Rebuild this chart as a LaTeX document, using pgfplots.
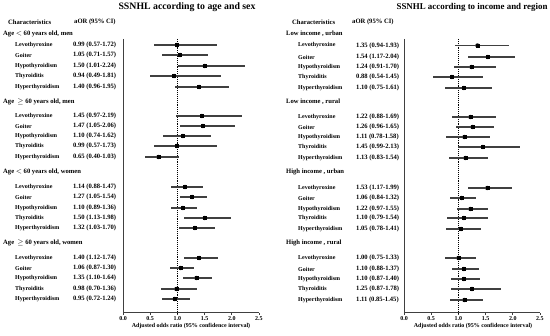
\documentclass[border=0pt]{standalone}
\usepackage{fontspec}
\setmainfont{Liberation Serif}
\usepackage{pgfplots}
\usepackage{pgfplotstable}
\pgfplotsset{compat=1.18}

\pgfplotstableread{
y or lo hi
45 0.99 0.57 1.72
55 1.05 0.71 1.57
66 1.50 1.01 2.24
76 0.94 0.49 1.81
87 1.40 0.96 1.95
116 1.45 0.97 2.19
126 1.47 1.05 2.06
136 1.10 0.74 1.62
146 0.99 0.57 1.73
157 0.65 0.40 1.03
187 1.14 0.88 1.47
197 1.27 1.05 1.54
208 1.10 0.89 1.36
218 1.50 1.13 1.98
228 1.32 1.03 1.70
258 1.40 1.12 1.74
268 1.06 0.87 1.30
278 1.35 1.10 1.64
289 0.98 0.70 1.36
299 0.95 0.72 1.24
}\lefttab

\pgfplotstableread{
y or lo hi
45.5 1.35 0.94 1.93
57 1.54 1.17 2.04
67 1.24 0.91 1.70
77 0.88 0.54 1.45
88 1.10 0.75 1.61
117 1.22 0.88 1.69
127 1.26 0.96 1.65
137 1.11 0.78 1.58
147 1.45 0.99 2.13
158 1.13 0.83 1.54
188 1.53 1.17 1.99
198 1.06 0.84 1.32
209 1.22 0.97 1.55
218 1.10 0.79 1.54
229 1.05 0.78 1.41
258 1.00 0.75 1.33
269 1.10 0.88 1.37
279 1.10 0.87 1.40
289 1.25 0.87 1.78
300 1.11 0.85 1.45
}\righttab

\newcommand{\fsm}{\bfseries\fontsize{6}{7}\selectfont}
\newcommand{\fmd}{\bfseries\fontsize{6.6}{8}\selectfont}
\newcommand{\fttl}{\bfseries\fontsize{9.8}{11}\selectfont}
\newcommand{\fttr}{\bfseries\fontsize{8.9}{10}\selectfont}

\pgfplotsset{
  forest/.style={
    scale only axis, width=136pt, height=274pt, anchor=north west,
    xmin=0, xmax=2.5, ymin=39, ymax=313, y dir=reverse,
    axis x line*=bottom, axis y line*=left,
    axis line style={-, line width=1pt, black!75},
    ytick=\empty,
    xtick={0,0.5,1,1.5,2,2.5},
    xticklabel style={font=\fsm, /pgf/number format/fixed, /pgf/number format/fixed zerofill, /pgf/number format/precision=1, /pgf/number format/assume math mode=true, inner sep=1pt},
    tick align=outside, major tick length=2pt, tick style={black!75, line width=0.8pt},
    clip=false,
  },
  ebar/.style={only marks, mark=none, black!75,
    error bars/.cd, x dir=both, x explicit, error mark=none,
    error bar style={line width=1.1pt, black!75}},
  dot/.style={only marks, mark=square*, mark size=1.5pt, black},
}

\begin{document}
\begin{tikzpicture}
\path[use as bounding box] (0,0) rectangle (550pt,-336pt);

% ---------------- left panel ----------------
\begin{axis}[forest, at={(123pt,-39pt)}]
\draw[densely dotted, line width=0.9pt] (axis cs:1,39) -- (axis cs:1,313);
\addplot[ebar] table[x=or, y=y, x error plus expr=\thisrow{hi}-\thisrow{or}, x error minus expr=\thisrow{or}-\thisrow{lo}] {\lefttab};
\addplot[dot] table[x=or, y=y] {\lefttab};
\end{axis}

\node[font=\fttl] at (187pt,-7pt) {SSNHL according to age and sex};
\node[font=\fmd, anchor=west, inner sep=0] at (8pt,-22pt) {Characteristics};
\node[font=\fmd, anchor=west, inner sep=0] at (74pt,-22pt) {aOR (95\% CI)};
\node[font=\fmd, anchor=west, inner sep=0] at (3pt,-34pt) {Age \(<\) 60 years old, men};
\node[font=\fmd, anchor=west, inner sep=0] at (3pt,-102pt) {Age \ \(\geq\) 60 years old, men};
\node[font=\fmd, anchor=west, inner sep=0] at (3pt,-172pt) {Age \(<\) 60 years old, women};
\node[font=\fmd, anchor=west, inner sep=0] at (3pt,-243pt) {Age \ \(\geq\) 60 years old, women};
\foreach \yy/\lab/\val in {45/Levothyroxine/0.99 (0.57-1.72), 55/Goiter/1.05 (0.71-1.57), 66/Hypothyroidism/1.50 (1.01-2.24), 76/Thyroiditis/0.94 (0.49-1.81), 87/Hyperthyroidism/1.40 (0.96-1.95),
 116/Levothyroxine/1.45 (0.97-2.19), 126/Goiter/1.47 (1.05-2.06), 136/Hypothyroidism/1.10 (0.74-1.62), 146/Thyroiditis/0.99 (0.57-1.73), 157/Hyperthyroidism/0.65 (0.40-1.03),
 187/Levothyroxine/1.14 (0.88-1.47), 197/Goiter/1.27 (1.05-1.54), 208/Hypothyroidism/1.10 (0.89-1.36), 218/Thyroiditis/1.50 (1.13-1.98), 228/Hyperthyroidism/1.32 (1.03-1.70),
 258/Levothyroxine/1.40 (1.12-1.74), 268/Goiter/1.06 (0.87-1.30), 278/Hypothyroidism/1.35 (1.10-1.64), 289/Thyroiditis/0.98 (0.70-1.36), 299/Hyperthyroidism/0.95 (0.72-1.24)}{
  \node[font=\fsm, anchor=west, inner sep=0] at (15pt,-\yy pt) {\lab};
  \node[font=\fmd, anchor=west, inner sep=0] at (73pt,-\yy pt) {\val};
}
\node[font=\fsm] at (191pt,-326pt) {Adjusted odds ratio (95\% confidence interval)};

% ---------------- right panel ----------------
\begin{axis}[forest, at={(404pt,-39pt)}]
\draw[densely dotted, line width=0.9pt] (axis cs:1,39) -- (axis cs:1,313);
\addplot[ebar] table[x=or, y=y, x error plus expr=\thisrow{hi}-\thisrow{or}, x error minus expr=\thisrow{or}-\thisrow{lo}] {\righttab};
\addplot[dot] table[x=or, y=y] {\righttab};
\end{axis}

\node[font=\fttr] at (472pt,-7pt) {SSNHL according to income and region};
\node[font=\fmd, anchor=west, inner sep=0] at (292pt,-22pt) {Characteristics};
\node[font=\fmd, anchor=west, inner sep=0] at (352pt,-22pt) {aOR (95\% CI)};
\node[font=\fmd, anchor=west, inner sep=0] at (286pt,-34pt) {Low income , urban};
\node[font=\fmd, anchor=west, inner sep=0] at (286pt,-102pt) {Low income , rural};
\node[font=\fmd, anchor=west, inner sep=0] at (286pt,-172pt) {High income , urban};
\node[font=\fmd, anchor=west, inner sep=0] at (286pt,-243pt) {High income , rural};
\foreach \yy/\lab/\val in {45.5/Levothyroxine/1.35 (0.94-1.93), 57/Goiter/1.54 (1.17-2.04), 67/Hypothyroidism/1.24 (0.91-1.70), 77/Thyroiditis/0.88 (0.54-1.45), 88/Hyperthyroidism/1.10 (0.75-1.61),
 117/Levothyroxine/1.22 (0.88-1.69), 127/Goiter/1.26 (0.96-1.65), 137/Hypothyroidism/1.11 (0.78-1.58), 147/Thyroiditis/1.45 (0.99-2.13), 158/Hyperthyroidism/1.13 (0.83-1.54),
 188/Levothyroxine/1.53 (1.17-1.99), 198/Goiter/1.06 (0.84-1.32), 209/Hypothyroidism/1.22 (0.97-1.55), 218/Thyroiditis/1.10 (0.79-1.54), 229/Hyperthyroidism/1.05 (0.78-1.41),
 258/Levothyroxine/1.00 (0.75-1.33), 269/Goiter/1.10 (0.88-1.37), 279/Hypothyroidism/1.10 (0.87-1.40), 289/Thyroiditis/1.25 (0.87-1.78), 300/Hyperthyroidism/1.11 (0.85-1.45)}{
  \node[font=\fsm, anchor=west, inner sep=0] at (298pt,-\yy pt) {\lab};
  \node[font=\fmd, anchor=west, inner sep=0] at (356pt,-\yy pt) {\val};
}
\node[font=\fsm] at (473pt,-326pt) {Adjusted odds ratio (95\% confidence interval)};
\end{tikzpicture}
\end{document}
